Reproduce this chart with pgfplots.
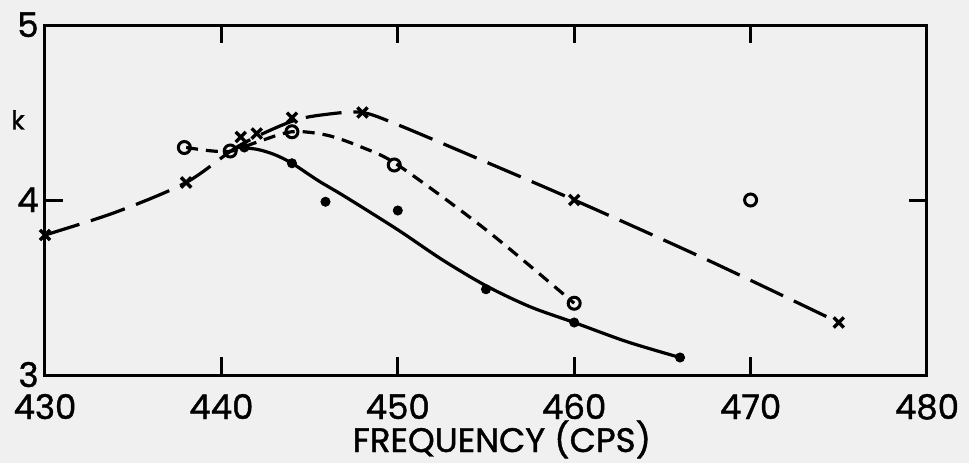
\documentclass[border=0pt]{standalone}
\usepackage{pgfplots}
\pgfplotsset{compat=1.18}
\usepackage{fontspec}
\setmainfont{Poppins}[FakeBold=1.2]
\begin{document}
\begin{tikzpicture}
\fill[black!6] (-22.5pt,-44pt) rectangle (462pt,187.5pt);
\begin{axis}[
  scale only axis,
  width=441pt, height=175pt,
  xmin=430, xmax=480, ymin=3, ymax=5,
  xtick={430,440,...,480}, ytick={3,4,5},
  tick align=inside,
  major tick length=9pt,
  tick style={line width=1.5pt, black},
  axis line style={line width=1.5pt, black},
  /pgf/number format/assume math mode=true,
  font=\fontsize{17}{19}\selectfont,
  xticklabel style={anchor=base, yshift=-22pt, inner sep=0pt, text height=12pt, text depth=0pt},
  yticklabel style={anchor=east, xshift=-3pt, inner sep=0pt, text height=12pt, text depth=0pt},
  xlabel={FREQUENCY (CPS)},
  xlabel style={at={(axis description cs:0.518,0)}, anchor=base, yshift=-38.5pt, inner sep=0pt},
  clip=false,
]
% long dashed curve (x series)
\addplot[black, line width=1.6pt, smooth, tension=0.5, dash pattern=on 18pt off 6pt] coordinates {
 (430,3.80) (434,3.93) (438,4.10) (441,4.31) (444,4.45) (446,4.49) (448,4.50) (450,4.43) (454,4.26) (460,4.00) (467.5,3.66) (475,3.30)};
% short dashed curve (o series)
\addplot[black, line width=1.6pt, smooth, tension=0.5, dash pattern=on 6pt off 4pt] coordinates {
 (438,4.30) (439.5,4.28) (440.6,4.28) (442,4.33) (444,4.39) (446,4.37) (448,4.30) (450,4.20) (455,3.83) (460,3.41)};
% solid curve (dot series)
\addplot[black, line width=1.6pt, smooth, tension=0.5] coordinates {
 (440.9,4.30) (442,4.29) (443,4.26) (444,4.21) (445.5,4.11) (447,4.02) (450,3.83) (452.5,3.66) (455,3.51) (457.5,3.39) (460,3.30) (463,3.19) (466,3.10)};
% markers
\addplot[only marks, mark=x, mark size=3.6pt, mark options={line width=1.7pt, black}] coordinates {
 (430,3.80) (438,4.10) (441.1,4.36) (442,4.38) (444,4.47) (448,4.50) (460,4.00) (475,3.30)};
\addplot[only marks, mark=o, mark size=3pt, mark options={line width=1.5pt, black, fill=black!6}] coordinates {
 (437.9,4.30) (440.5,4.28) (444,4.39) (449.8,4.20) (460,3.41) (470,4.00)};
\addplot[only marks, mark=*, mark size=2.3pt, mark options={black}] coordinates {
 (441.3,4.30) (444,4.21) (445.9,3.99) (450,3.94) (455,3.49) (460,3.30) (466,3.10)};
\node[font=\fontsize{13}{15}\selectfont, inner sep=0pt] at (rel axis cs:0,0.729) [xshift=-13.5pt] {k};
\end{axis}
\end{tikzpicture}
\end{document}
